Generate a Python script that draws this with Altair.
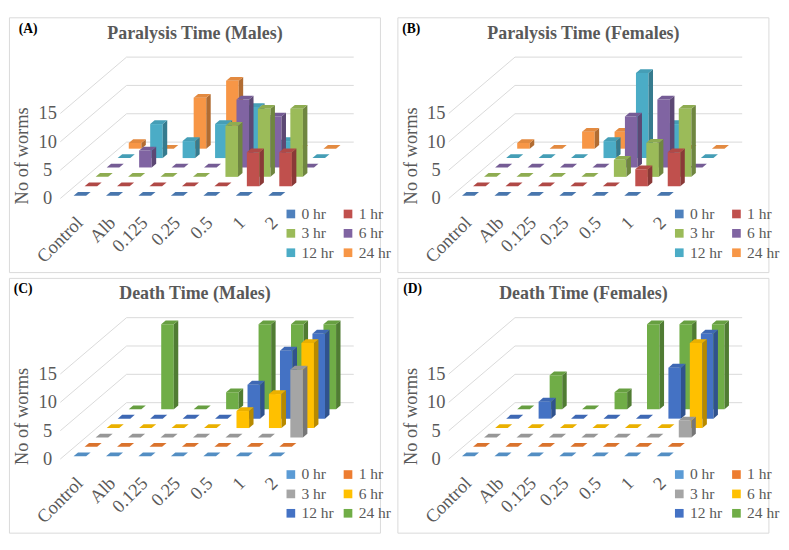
import altair as alt
import pandas as pd

CATEGORIES = ["Control", "Alb", "0.125", "0.25", "0.5", "1", "2"]
SERIES = ["0 hr", "1 hr", "3 hr", "6 hr", "12 hr", "24 hr"]
TICKS = [0, 5, 10, 15]

# one list per series (0 hr ... 24 hr), one value per category
PARALYSIS_MALES = [
    [0, 0, 0, 0, 0, 0, 0],
    [0, 0, 0, 0, 0, 6, 6],
    [0, 0, 0, 0, 9, 12, 12],
    [0, 3, 0, 0, 12, 9, 0],
    [0, 6, 3, 6, 9, 3, 0],
    [1, 0, 9, 12, 0, 0, 0],
]
PARALYSIS_FEMALES = [
    [0, 0, 0, 0, 0, 0, 0],
    [0, 0, 0, 0, 0, 3, 6],
    [0, 0, 0, 0, 3, 6, 12],
    [0, 0, 0, 0, 9, 12, 0],
    [0, 0, 0, 3, 15, 6, 0],
    [1, 0, 3, 3, 0, 0, 0],
]
DEATH_MALES = [
    [0, 0, 0, 0, 0, 0, 0],
    [0, 0, 0, 0, 0, 0, 0],
    [0, 0, 0, 0, 0, 0, 12],
    [0, 0, 0, 0, 3, 6, 15],
    [0, 0, 0, 0, 6, 12, 15],
    [0, 15, 0, 3, 15, 15, 15],
]
DEATH_FEMALES = [
    [0, 0, 0, 0, 0, 0, 0],
    [0, 0, 0, 0, 0, 0, 0],
    [0, 0, 0, 0, 0, 0, 3],
    [0, 0, 0, 0, 0, 0, 15],
    [0, 3, 0, 0, 0, 9, 15],
    [0, 6, 0, 3, 15, 15, 15],
]

PALETTE_A = ["#4F81BD", "#C0504D", "#9BBB59", "#8064A2", "#4BACC6", "#F79646"]
PALETTE_B = ["#5B9BD5", "#ED7D31", "#A5A5A5", "#FFC000", "#4472C4", "#70AD47"]

FONT = "Liberation Serif"
TXT = "#595959"

# geometry of the pseudo-3D projection (panel pixels)
W, H = 383, 263
K = 5.85          # px per worm
FLX, FLY = 53.0, 187.0
PITCH = 33.5
RDX = 11.4        # px shift per depth row
RDY = 9.7 / K     # worm-units shift per depth row
R0 = 0.3
FW = 13.0
DX = 4.6
DY = 3.9 / K
YLO = (FLY - H) / K
YHI = FLY / K

XS = alt.Scale(domain=[0, W], nice=False, zero=False)
YS = alt.Scale(domain=[YLO, YHI], nice=False, zero=False)


def shade(hx, f):
    r, g, b = int(hx[1:3], 16), int(hx[3:5], 16), int(hx[5:7], 16)
    return "#%02x%02x%02x" % (int(r * f), int(g * f), int(b * f))


X0 = f"{FLX} + {PITCH}*datum.ci + {(PITCH - FW) / 2} + {RDX}*(datum.ri + {R0})"
YB = f"{RDY}*(datum.ri + {R0})"


def panel(values, palette, title, tag, tagx):
    rows = []
    for ri, s in enumerate(SERIES):
        for ci, c in enumerate(CATEGORIES):
            rows.append({"cat": c, "ci": ci, "series": s, "ri": ri, "value": values[ri][ci]})
    df = pd.DataFrame(rows)
    dft = df.merge(pd.DataFrame({"t": [0, 1]}), how="cross")

    legend = alt.Legend(
        orient="none", legendX=283, legendY=195, columns=2, direction="horizontal",
        title=None, symbolType="square", symbolSize=80, symbolStrokeWidth=0,
        labelFont=FONT, labelFontSize=16, labelColor=TXT,
        columnPadding=6, rowPadding=4, labelOffset=3,
    )

    layers = []
    # back-wall / floor gridlines
    gdf = pd.DataFrame({"tick": TICKS}).merge(pd.DataFrame({"v": [0, 1, 2]}), how="cross")
    grid = alt.Chart(gdf).transform_calculate(
        gx=f"{FLX} + (datum.v >= 1 ? {6 * RDX} : 0) + (datum.v == 2 ? {7 * PITCH} : 0)",
        gy=f"datum.tick + (datum.v >= 1 ? {6 * RDY} : 0)",
    ).mark_line(color="#d9d9d9", strokeWidth=1).encode(
        x=alt.X("gx:Q", scale=XS, axis=None),
        y=alt.Y("gy:Q", scale=YS, axis=None),
        detail="tick:N",
        order="v:Q",
    )
    layers.append(grid)

    for ri in reversed(range(len(SERIES))):
        col = palette[ri]
        front = alt.Chart(df).transform_filter(f"datum.ri == {ri}").transform_calculate(
            x0=X0, x1=f"{X0} + {FW}", yb=YB, yt=f"{YB} + datum.value"
        ).mark_rect().encode(
            x=alt.X("x0:Q", scale=XS, axis=None),
            x2="x1:Q",
            y=alt.Y("yb:Q", scale=YS, axis=None),
            y2="yt:Q",
            color=alt.Color("series:N", scale=alt.Scale(domain=SERIES, range=palette), legend=legend),
        )
        side = alt.Chart(dft).transform_filter(f"datum.ri == {ri}").transform_calculate(
            sx=f"{X0} + {FW} + datum.t*{DX}",
            sy=f"{YB} + datum.t*{DY}",
            sy2=f"{YB} + datum.value + datum.t*{DY}",
        ).mark_area(orient="vertical", color=shade(col, 0.72)).encode(
            x=alt.X("sx:Q", scale=XS, axis=None),
            y=alt.Y("sy:Q", scale=YS, axis=None, stack=False),
            y2="sy2:Q",
            detail="ci:N",
        )
        top = alt.Chart(dft).transform_filter(f"datum.ri == {ri}").transform_calculate(
            ty=f"{YB} + datum.value + datum.t*{DY}",
            tx=f"{X0} + datum.t*{DX}",
            tx2=f"{X0} + {FW} + datum.t*{DX}",
        ).mark_area(orient="horizontal", color=shade(col, 0.92)).encode(
            y=alt.Y("ty:Q", scale=YS, axis=None),
            x=alt.X("tx:Q", scale=XS, axis=None, stack=False),
            x2="tx2:Q",
            detail="ci:N",
        )
        layers += [front, side, top]

    ticks = alt.Chart(pd.DataFrame({"tick": TICKS})).mark_text(
        align="center", baseline="middle", font=FONT, fontSize=19, color=TXT
    ).encode(
        x=alt.value(FLX - 13),
        y=alt.Y("tick:Q", scale=YS, axis=None),
        text="tick:Q",
    )
    cats = alt.Chart(pd.DataFrame({"cat": CATEGORIES, "ci": list(range(len(CATEGORIES)))})).transform_calculate(
        lx=f"{FLX} + {PITCH}*datum.ci + {(PITCH - FW) / 2} + {RDX * R0} + {FW / 2}"
    ).mark_text(
        angle=315, align="right", baseline="middle", font=FONT, fontSize=19, color=TXT
    ).encode(
        x=alt.X("lx:Q", scale=XS, axis=None),
        y=alt.value(209),
        text="cat:N",
    )
    ytitle = alt.Chart(pd.DataFrame({"t": ["No of worms"]})).mark_text(
        angle=270, align="center", baseline="middle", font=FONT, fontSize=19, color=TXT
    ).encode(x=alt.value(14), y=alt.value(143), text="t:N")
    ttl = alt.Chart(pd.DataFrame({"t": [title]})).mark_text(
        align="center", baseline="middle", font=FONT, fontSize=18.5, fontWeight="bold", color=TXT
    ).encode(x=alt.value(192), y=alt.value(16), text="t:N")
    tg = alt.Chart(pd.DataFrame({"t": [tag]})).mark_text(
        align="left", baseline="middle", font=FONT, fontSize=14, fontWeight="bold", color="#000000"
    ).encode(x=alt.value(tagx), y=alt.value(12), text="t:N")

    layers += [ticks, cats, ytitle, ttl, tg]
    return alt.layer(*layers).properties(width=W, height=H)


pa = panel(PARALYSIS_MALES, PALETTE_A, "Paralysis Time (Males)", "(A)", 10)
pb = panel(PARALYSIS_FEMALES, PALETTE_A, "Paralysis Time (Females)", "(B)", 5)
pc = panel(DEATH_MALES, PALETTE_B, "Death Time (Males)", "(C)", 5)
pd_ = panel(DEATH_FEMALES, PALETTE_B, "Death Time (Females)", "(D)", 6)

chart = alt.concat(pa, pb, pc, pd_, columns=2, spacing=4).resolve_scale(
    color="independent"
).resolve_legend(color="independent").properties(padding=0).configure_view(
    stroke="#d9d9d9", strokeWidth=1
)

chart.save("out.html", embed_options={"renderer": "svg", "actions": False})
